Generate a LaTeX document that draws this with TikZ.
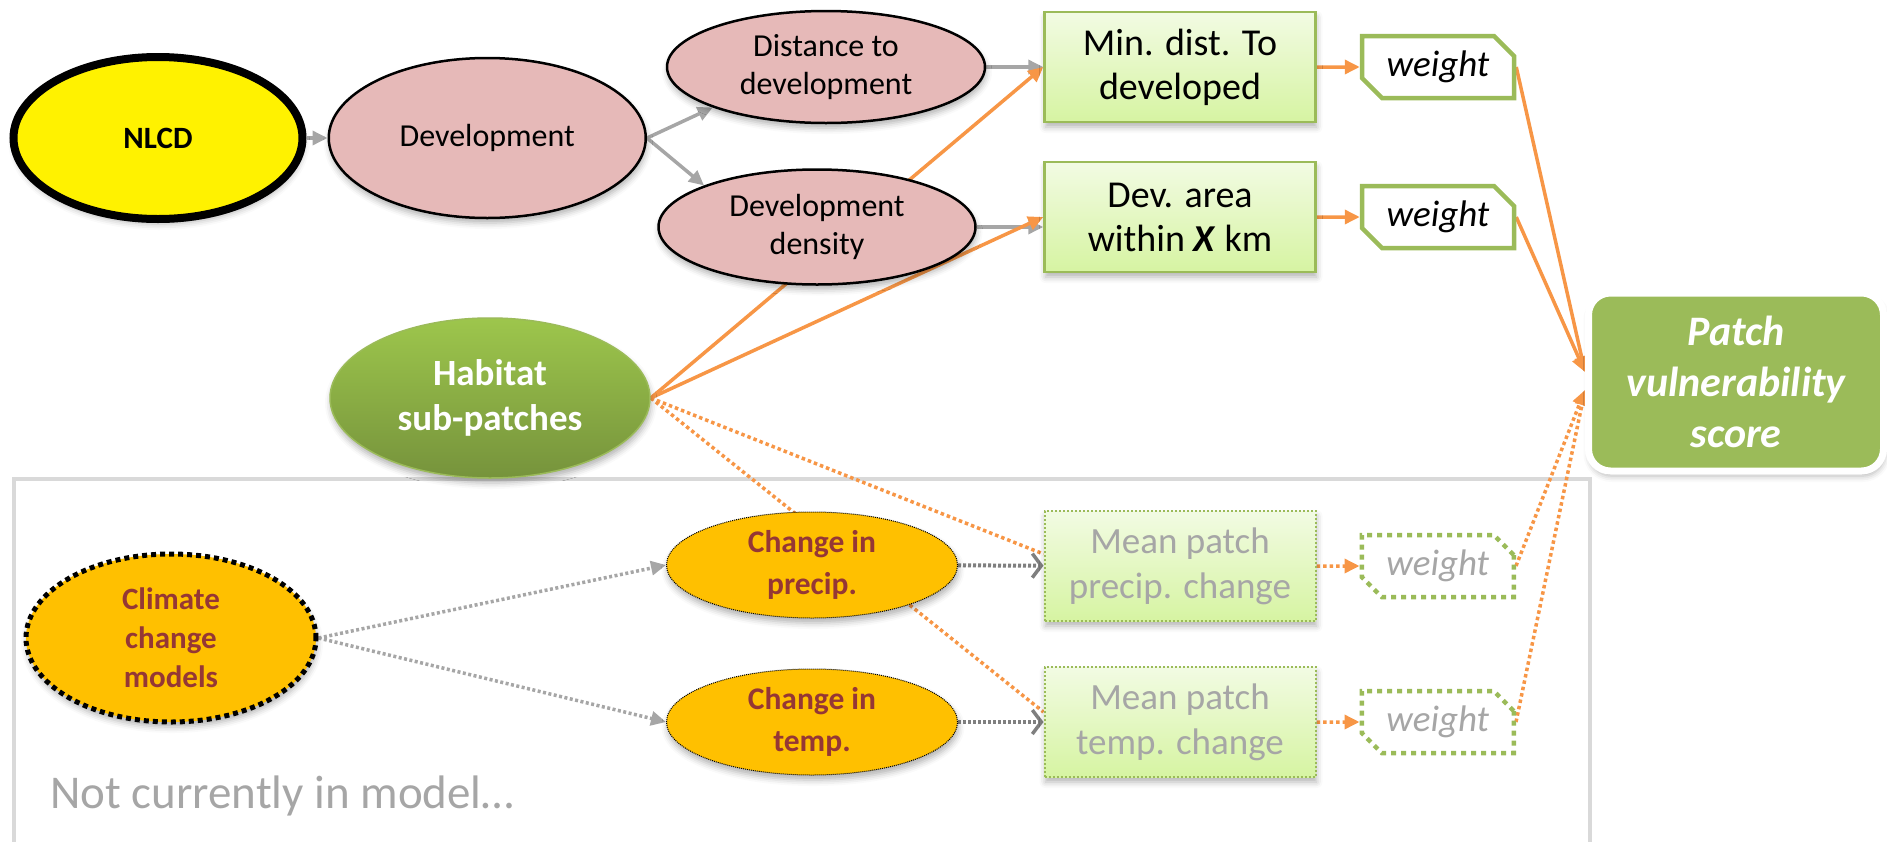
\documentclass[tikz,border=0pt]{standalone}
\usepackage{fontspec}
\setmainfont{Carlito}
\usepackage{xcolor}
\usepackage{tikz}
\usetikzlibrary{arrows.meta,positioning,shapes.geometric,shapes.misc,backgrounds,shadows.blur}

\definecolor{pinkfill}{HTML}{E6B9B8}
\definecolor{arrgray}{HTML}{A6A6A6}
\definecolor{dotgray}{HTML}{7F7F7F}
\definecolor{orangeln}{HTML}{F79646}
\definecolor{boxgreen}{HTML}{9BBB59}
\definecolor{boxtop}{HTML}{F2FBE3}
\definecolor{boxbot}{HTML}{D6F4A2}
\definecolor{climfill}{HTML}{FFC000}
\definecolor{climtext}{HTML}{953735}
\definecolor{habtop}{HTML}{9DC64C}
\definecolor{habbot}{HTML}{76933C}
\definecolor{framegray}{HTML}{D9D9D9}
\definecolor{softtext}{HTML}{A6A6A6}

\begin{document}
\begin{tikzpicture}[
  x=1pt, y=-1pt,
  softshadow/.style={blur shadow={shadow xshift=1pt, shadow yshift=-5pt, shadow blur radius=6pt, shadow opacity=30}},
  src/.style={ellipse, draw=black, line width=8pt, fill=yellow, inner sep=0pt, minimum width=289pt, minimum height=162pt, font=\fontsize{31}{38}\selectfont\bfseries, softshadow},
  devell/.style={ellipse, draw=black, line width=2.5pt, fill=pinkfill, align=center, inner sep=0pt, minimum width=317pt, minimum height=160pt, font=\fontsize{32}{38}\selectfont, softshadow},
  metric/.style={rectangle, draw=boxgreen, line width=2.5pt, top color=boxtop, bottom color=boxbot, align=center, inner sep=0pt, minimum width=271pt, minimum height=110pt, font=\fontsize{38}{44}\selectfont, softshadow},
  metricoff/.style={metric, line width=2pt, dash pattern=on 2pt off 2pt, text=softtext, font=\fontsize{37}{45}\selectfont},
  wt/.style={chamfered rectangle, chamfered rectangle corners={north east,south west}, chamfered rectangle sep=10pt, draw=boxgreen, line width=4.5pt, fill=white, inner sep=0pt, minimum width=152pt, minimum height=62pt, font=\fontsize{37}{44}\selectfont\itshape},
  wtoff/.style={wt, dash pattern=on 5pt off 5pt, text=softtext},
  habell/.style={ellipse, draw=boxgreen, line width=1.5pt, top color=habtop, bottom color=habbot, text=white, align=center, inner sep=0pt, minimum width=320pt, minimum height=160pt, font=\fontsize{37}{45}\selectfont\bfseries, softshadow},
  score/.style={rectangle, rounded corners=22pt, draw=white, line width=7pt, fill=boxgreen, text=white, align=center, inner sep=0pt, minimum width=295pt, minimum height=178pt, font=\fontsize{42}{51}\selectfont\bfseries\itshape, softshadow},
  climell/.style={ellipse, draw=black, line width=5pt, dash pattern=on 5pt off 4pt, fill=climfill, text=climtext, align=center, inner sep=0pt, minimum width=290pt, minimum height=168pt, font=\fontsize{31}{39}\selectfont\bfseries, softshadow},
  chgell/.style={ellipse, draw=black, line width=1pt, dash pattern=on 1pt off 1pt, fill=climfill, text=climtext, align=center, inner sep=0pt, minimum width=291pt, minimum height=106pt, font=\fontsize{31.5}{42}\selectfont\bfseries, softshadow},
  gline/.style={draw=arrgray, line width=3.5pt, -{Triangle[length=15pt,width=14pt]}},
  oline/.style={draw=orangeln, line width=3.5pt, -{Triangle[length=15pt,width=14pt]}},
  odot/.style={draw=orangeln, line width=3.5pt, dash pattern=on 3.5pt off 3pt},
  gdot/.style={draw=arrgray, line width=3.5pt, dash pattern=on 3pt off 2.5pt, -{Triangle[length=15pt,width=14pt]}},
  kdot/.style={draw=dotgray, line width=4pt, dash pattern=on 3pt off 2pt, -{Straight Barb[length=9pt,width=24pt,line width=3.5pt]}}
]
\useasboundingbox (0,0) rectangle (1887,841);
\node[src] (nlcd) at (158,138) {NLCD};
\node[devell, right=21pt of nlcd] (dev) {Development};
\node[devell, minimum width=318pt, minimum height=112pt] (dist) at (826,67) {Distance to\\development};
\node[devell, minimum width=317pt, minimum height=115pt] (dens) at (817,227) {Development\\density};
\node[metric] (mind) at (1180,67) {Min. dist. To\\developed};
\node[metric] (area) at (1180,217) {Dev. area\\within \textbf{\textit{X}} km};
\node[wt, right=43pt of mind] (wmind) {weight};
\node[wt, right=43pt of area] (warea) {weight};
\node[habell] (hab) at (490,398) {Habitat\\sub-patches};
\node[score] (patch) at (1736,382) {Patch\\vulnerability\\score};
\node[climell] (clim) at (171,638) {Climate\\change\\models};
\node[chgell] (cprec) at (812,565) {Change in\\precip.};
\node[chgell, below=50pt of cprec] (ctemp) {Change in\\temp.};
\node[metricoff] (mprec) at (1180,566) {Mean patch\\precip. change};
\node[metricoff, below=44pt of mprec] (mtemp) {Mean patch\\temp. change};
\node[wtoff, right=43pt of mprec] (wprec) {weight};
\node[wtoff, right=43pt of mtemp] (wtemp) {weight};
\node[anchor=base west, inner sep=0pt, text=softtext, font=\fontsize{47}{56}\selectfont] (offnote) at (50,808) {Not currently in model…};
\begin{scope}[on background layer]
\draw[framegray, line width=4pt] (14,479) rectangle (1590,880);
\draw[gline] (nlcd) -- (dev);
\draw[gline] (dev.east) -- (dist.south west);
\draw[gline] (dev.east) -- (dens.north west);
\draw[gline] (dist) -- (mind);
\draw[gline] (dens.east) -- (dens.east -| area.west);
\draw[oline] (hab.east) -- (mind.west);
\draw[oline] (hab.east) -- (area.west);
\draw[odot] (hab.east) -- ([yshift=12pt]mprec.west);
\draw[odot] (hab.east) -- ([yshift=10pt]mtemp.west);
\draw[oline] (mind) -- (wmind);
\draw[oline] (area) -- (warea);
\draw[oline] (wmind.east) -- ([yshift=10pt]patch.west);
\draw[oline] (warea.east) -- ([yshift=10pt]patch.west);
\draw[gdot] (clim.east) -- (cprec.west);
\draw[gdot] (clim.east) -- (ctemp.west);
\draw[kdot] (cprec) -- (mprec);
\draw[kdot] (ctemp) -- (mtemp);
\draw[odot, -{Triangle[length=15pt,width=14pt]}] (mprec) -- (wprec);
\draw[odot, -{Triangle[length=15pt,width=14pt]}] (mtemp) -- (wtemp);
\draw[odot, -{Triangle[length=15pt,width=14pt]}] (wprec.east) -- ([yshift=-8pt]patch.west);
\draw[odot, -{Triangle[length=15pt,width=14pt]}] (wtemp.east) -- ([yshift=-8pt]patch.west);
\end{scope}
\end{tikzpicture}
\end{document}
